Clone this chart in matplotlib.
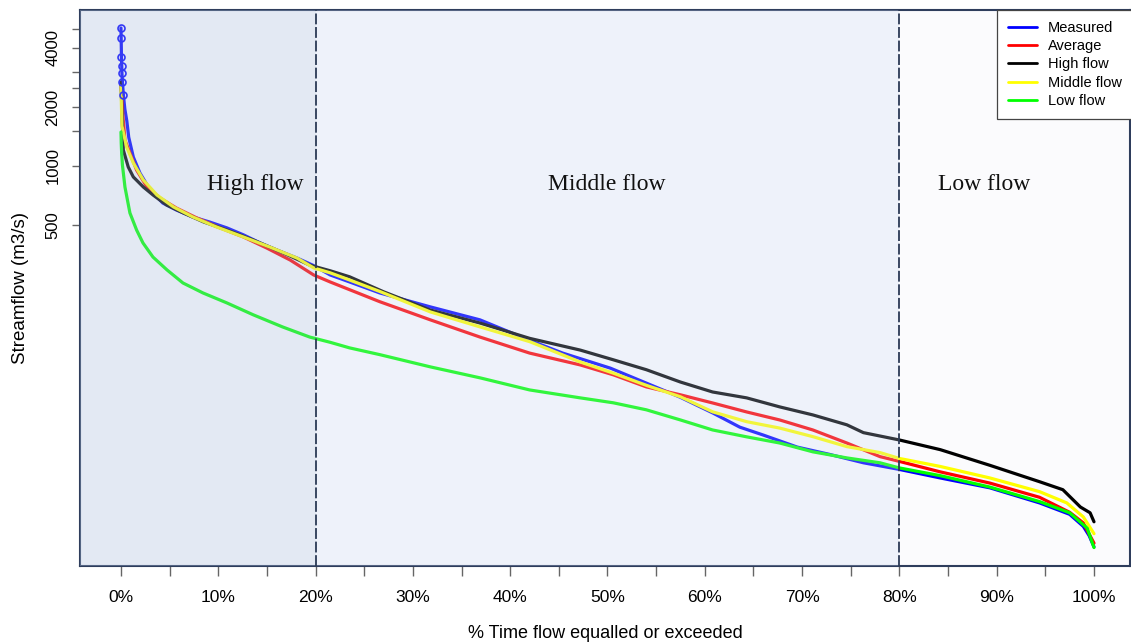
import numpy as np
import matplotlib
matplotlib.use("Agg")
import matplotlib.pyplot as plt
from matplotlib.ticker import FixedLocator, FixedFormatter

# ---------------- data (percent of time, streamflow m3/s) ----------------
measured_pct = [0, 0.02, 0.05, 0.08, 0.1, 0.15, 0.25, 0.4, 0.6, 0.8, 1.27, 1.95, 3.0, 4.3, 5.7, 7.4,
                9.1, 10.9, 12.6, 14.3, 16.0, 18.1, 19.7, 21.5, 23.5, 26.6, 31.8, 36.9, 42, 45.4,
                50.3, 54, 57.5, 60.8, 63.6, 66, 69.5, 72.9, 76.3, 80, 84.2, 89.3, 94.4, 97.5,
                98.9, 99.5, 100]
measured_q = [5060, 4500, 3600, 3230, 2980, 2680, 2300, 1950, 1700, 1400, 1111, 921, 754, 647, 596, 549,
              518, 483, 445, 405, 373, 339, 312, 278, 256, 225, 191, 164, 129, 111,
              93, 78, 66, 55, 46.5, 42.4, 36.8, 33.7, 30.6, 28.3, 25.6, 22.8, 19.1, 16.7,
              14.5, 13, 11.4]

average_pct = [0, 0.1, 0.2, 0.41, 0.92, 1.6, 2.67, 4.0, 5.7, 7.8, 10.2, 12.6, 15.0, 17.4, 19.8,
               21.5, 26.6, 31.8, 36.9, 42, 47.2, 50.6, 54, 57.5, 60.8, 64.3, 67.7, 71.1, 74.6,
               78, 80, 84.2, 89.3, 94.4, 97.5, 98.9, 100]
average_q = [2600, 2200, 1800, 1357, 1165, 954, 781, 687, 610, 543, 483, 434, 381, 331, 278,
             256, 203, 164, 134, 111, 96.6, 86, 74.6, 68, 61.8, 55.6, 50.6, 45, 38.6,
             32.9, 31.1, 27.5, 24.1, 20.4, 17.1, 15.1, 11.9]

high_pct = [0, 0.1, 0.24, 0.75, 1.27, 2.3, 3.3, 4.7, 6.4, 8.5, 10.9, 13.6, 16.7, 19.4, 21.5,
            23.5, 27, 31.8, 36.9, 42, 47.2, 50.6, 54, 57.5, 60.8, 64.3, 67.7, 71.1, 74.6, 76.3,
            80, 84.2, 89.3, 94.4, 96.8, 98.6, 99.6, 100]
high_q = [2680, 1900, 1207, 988, 879, 781, 711, 632, 576, 518, 471, 419, 360, 312, 292,
          272, 228, 184, 158, 132, 115, 102.6, 91.3, 79, 70.3, 65.6, 59, 53.7, 47.8, 43.6,
          40, 35.7, 29.7, 24.5, 22.3, 18.2, 17, 15.3]

middle_pct = [0, 0.05, 0.1, 0.58, 1.27, 2.3, 3.7, 5.4, 7.4, 9.8, 12.6, 15.3, 18.1, 19.8, 21.5,
              23.5, 26.6, 31.8, 36.9, 42, 47.2, 50.6, 54, 57.5, 60.8, 64.3, 67.7, 71.1, 74.6,
              78, 80, 84.2, 89.3, 94.4, 97.2, 98.9, 100]
middle_q = [2550, 2000, 1600, 1250, 1036, 848, 711, 618, 549, 489, 434, 386, 339, 302, 285,
            262, 229, 180, 151, 127, 100, 87.7, 76, 66.4, 55.7, 49.6, 46, 41.6, 37,
            34.5, 32.2, 29.3, 25.6, 21.8, 19.1, 16.2, 13.3]

low_pct = [0, 0.03, 0.07, 0.15, 0.41, 0.92, 1.61, 2.26, 3.29, 4.73, 6.37, 8.43, 10.9, 13.6, 16.6,
           19.4, 21.5, 23.5, 26.6, 31.8, 36.9, 42, 47.2, 50.6, 54, 57.5, 60.8, 64.3, 67.7,
           71.1, 74.6, 78, 80, 84.2, 89.3, 94.4, 97.5, 99.3, 100]
low_q = [1490, 1300, 1165, 1012, 781, 576, 471, 405, 343, 295, 253, 225, 200, 174, 151,
         134, 126, 118, 109, 94.4, 83, 72, 65.6, 61.9, 57, 50.6, 45, 41.5, 38.6,
         34.8, 32.4, 30.6, 28.8, 26.3, 23, 19.4, 17, 14.2, 11.3]

series_labels = ["Measured", "Average", "High flow", "Middle flow", "Low flow"]
series_colors = ["#0000ff", "#ff0000", "#000000", "#ffff00", "#00ff00"]

region_names = ["High flow", "Middle flow", "Low flow"]
region_bounds = [0, 20, 80, 100]

x_ticks = list(range(0, 101, 5))
x_ticklabels = [f"{t}%" if t % 10 == 0 else "" for t in x_ticks]
y_ticks = [500, 1000, 1500, 2000, 2500, 3000, 4000, 5000]
y_ticklabels = ["500", "1000", "", "2000", "", "", "4000", ""]

# ---------------- figure ----------------
W, H = 1131, 643
fig = plt.figure(figsize=(W / 100, H / 100), dpi=100)
ax = fig.add_axes([80 / W, (H - 566) / H, 1050 / W, 556 / H])
ax.set_facecolor("#fbfbfd")

data = [(measured_pct, measured_q), (average_pct, average_q), (high_pct, high_q),
        (middle_pct, middle_q), (low_pct, low_q)]
for (px, qy), lab, col in zip(data, series_labels, series_colors):
    ax.plot(px, qy, color=col, lw=2.3, label=lab, zorder=2,
            solid_joinstyle="round", solid_capstyle="round")

# open circle markers at the top of measured curve
ax.plot(measured_pct[:7], measured_q[:7], color="#0000ff", lw=1.2, marker="o",
        markersize=5, fillstyle="none", markeredgewidth=1.2, zorder=2.1)

# translucent region overlays (drawn over the curves)
ax.axvspan(-10, region_bounds[1], facecolor=(174/255, 194/255, 223/255), alpha=0.30, lw=0, zorder=3)
ax.axvspan(region_bounds[1], region_bounds[2], facecolor=(203/255, 219/255, 245/255), alpha=0.25, lw=0, zorder=3)

for b in region_bounds[1:3]:
    ax.axvline(b, color="#2b3a55", lw=1.3, linestyle=(0, (6, 1.5)), zorder=4)

ax.set_yscale("log")
ax.set_xlim(-4.21, 103.7)
ax.set_ylim(9.1, 6250)

ax.yaxis.set_major_locator(FixedLocator(y_ticks))
ax.yaxis.set_major_formatter(FixedFormatter(y_ticklabels))
ax.yaxis.set_minor_locator(FixedLocator([]))
ax.xaxis.set_major_locator(FixedLocator(x_ticks))
ax.xaxis.set_major_formatter(FixedFormatter(x_ticklabels))

ax.tick_params(axis="x", direction="out", length=7, width=1, color="#666666",
               labelsize=12.5, pad=10)
ax.tick_params(axis="y", direction="out", length=6, width=1, color="#666666",
               labelsize=12, pad=8)
for lbl in ax.get_yticklabels():
    lbl.set_rotation(90)
    lbl.set_va("center")

for s in ax.spines.values():
    s.set_color("#2e3d5c")
    s.set_linewidth(1.5)

ax.set_xlabel("% Time flow equalled or exceeded", fontsize=13, labelpad=15,
              family=["Liberation Sans", "DejaVu Sans"])
ax.set_ylabel("Streamflow (m3/s)", fontsize=13.5, labelpad=12,
              family=["Liberation Sans", "DejaVu Sans"])
for lbl in ax.get_xticklabels() + ax.get_yticklabels():
    lbl.set_family(["Liberation Sans", "DejaVu Sans"])

# region names
centers_px = [255, 607, 984]
for name, cx in zip(region_names, centers_px):
    xd = (cx - 80) / 1050 * (103.7 + 4.21) - 4.21
    ax.text(xd, 1000 * 2 ** ((166 - 185) / 59), name, ha="center", va="center",
            fontsize=17, family=["Liberation Serif", "DejaVu Serif"], color="#111111", zorder=5)

leg = ax.legend(loc="upper left", bbox_to_anchor=(997 / W, 1 - 10 / H),
                bbox_transform=fig.transFigure, borderaxespad=0, frameon=True,
                fancybox=False, framealpha=1, edgecolor="#444444",
                prop={"family": ["Liberation Sans", "DejaVu Sans"], "size": 10.5},
                handlelength=2.0, handletextpad=0.75, labelspacing=0.29,
                borderpad=0.75)
leg.get_frame().set_linewidth(0.9)
for h in leg.get_lines():
    h.set_linewidth(2.0)
leg.set_zorder(10)

fig.savefig("out.png", dpi=100)
